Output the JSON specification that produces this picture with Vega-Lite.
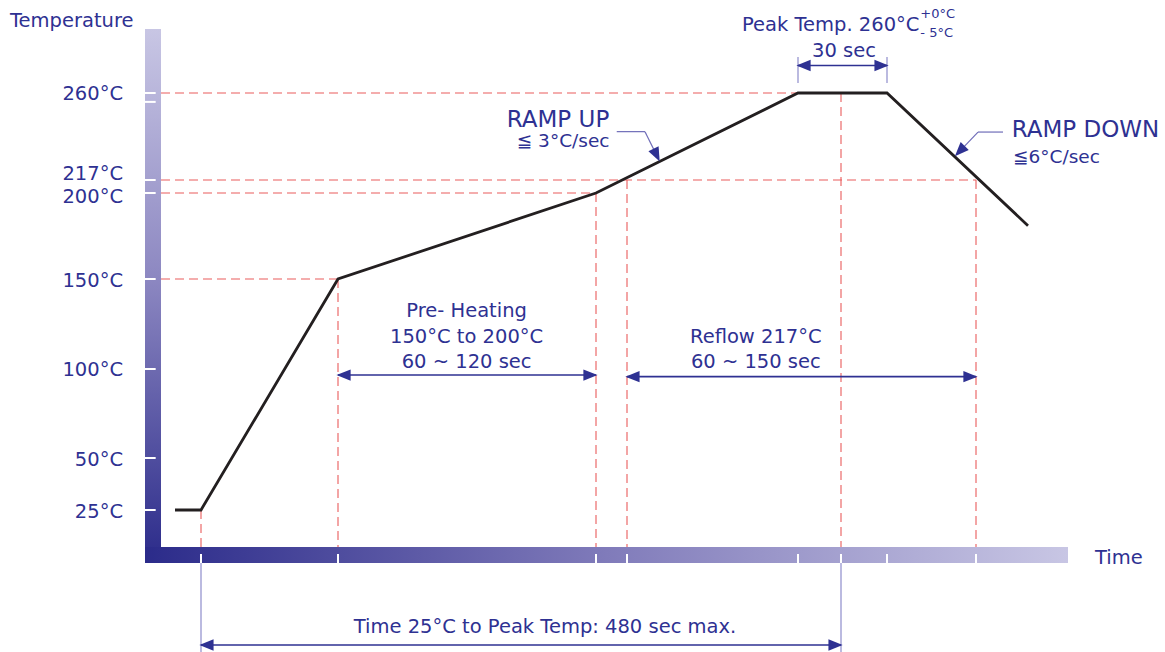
{
  "$schema": "https://vega.github.io/schema/vega-lite/v6.json",
  "width": 1165,
  "height": 652,
  "padding": 0,
  "autosize": {"type": "none"},
  "background": "white",
  "config": {"view": {"stroke": null}, "axis": {"disable": true}, "text": {"font": "DejaVu Sans"}},
  "datasets": {
    "segs": [
      {"k": "ybar", "t": -42, "t2": -30, "v": -1.5, "v2": 292},
      {"k": "xbar", "t": -42, "t2": 650.25, "v": -1.5, "v2": 6.5},
      {"k": "red", "t": -30, "v": 150, "t2": 102.75, "v2": 150},
      {"k": "red", "t": -30, "v": 200, "t2": 296.25, "v2": 200},
      {"k": "red", "t": -30, "v": 217, "t2": 581.25, "v2": 217},
      {"k": "red", "t": -30, "v": 260, "t2": 447.75, "v2": 260},
      {"k": "red", "t": 0, "v": 25, "t2": 0, "v2": 6.5},
      {"k": "red", "t": 102.75, "v": 150, "t2": 102.75, "v2": 6.5},
      {"k": "red", "t": 296.25, "v": 200, "t2": 296.25, "v2": 6.5},
      {"k": "red", "t": 319.5, "v": 217, "t2": 319.5, "v2": 6.5},
      {"k": "red", "t": 480, "v": 260, "t2": 480, "v2": 6.5},
      {"k": "red", "t": 581.25, "v": 217, "t2": 581.25, "v2": 6.5},
      {"k": "guide", "t": 0, "v": -1.5, "t2": 0, "v2": -46},
      {"k": "guide", "t": 480, "v": -1.5, "t2": 480, "v2": -46},
      {"k": "guide", "t": 447.75, "v": 278, "t2": 447.75, "v2": 265},
      {"k": "guide", "t": 514.5, "v": 278, "t2": 514.5, "v2": 265},
      {"k": "arrow", "t": 447.75, "v": 273.75, "t2": 514.5, "v2": 273.75},
      {"k": "arrow", "t": 102.75, "v": 96.6, "t2": 296.25, "v2": 96.6},
      {"k": "arrow", "t": 319.5, "v": 95.7, "t2": 581.25, "v2": 95.7},
      {"k": "arrow", "t": 0, "v": -42.5, "t2": 480, "v2": -42.5},
      {"k": "leader", "t": 311.8, "v": 240.9, "t2": 333, "v2": 240.9},
      {"k": "leader", "t": 333, "v": 240.9, "t2": 341.7, "v2": 229.3},
      {"k": "leader", "t": 601.5, "v": 240.7, "t2": 582.75, "v2": 240.7},
      {"k": "leader", "t": 582.75, "v": 240.7, "t2": 569.1, "v2": 231.3},
      {"k": "ytick", "t": -42, "v": 25, "t2": -34, "v2": 25},
      {"k": "ytick", "t": -42, "v": 50, "t2": -34, "v2": 50},
      {"k": "ytick", "t": -42, "v": 100, "t2": -34, "v2": 100},
      {"k": "ytick", "t": -42, "v": 150, "t2": -34, "v2": 150},
      {"k": "ytick", "t": -42, "v": 200, "t2": -34, "v2": 200},
      {"k": "ytick", "t": -42, "v": 217, "t2": -34, "v2": 217},
      {"k": "ytick", "t": -42, "v": 260, "t2": -34, "v2": 260},
      {"k": "ytick", "t": -42, "v": 255.6, "t2": -34, "v2": 255.6},
      {"k": "xtick", "t": 0, "v": -1.5, "t2": 0, "v2": 3},
      {"k": "xtick", "t": 102.75, "v": -1.5, "t2": 102.75, "v2": 3},
      {"k": "xtick", "t": 296.25, "v": -1.5, "t2": 296.25, "v2": 3},
      {"k": "xtick", "t": 319.5, "v": -1.5, "t2": 319.5, "v2": 3},
      {"k": "xtick", "t": 447.75, "v": -1.5, "t2": 447.75, "v2": 3},
      {"k": "xtick", "t": 480, "v": -1.5, "t2": 480, "v2": 3},
      {"k": "xtick", "t": 514.5, "v": -1.5, "t2": 514.5, "v2": 3},
      {"k": "xtick", "t": 581.25, "v": -1.5, "t2": 581.25, "v2": 3}
    ],
    "prof": [
      {"t": -19.5, "v": 25},
      {"t": 0, "v": 25},
      {"t": 102.75, "v": 150},
      {"t": 296.25, "v": 200},
      {"t": 447.75, "v": 260},
      {"t": 514.5, "v": 260},
      {"t": 620.25, "v": 181}
    ],
    "heads": [
      {"dir": "right", "t": 510.4, "v": 273.75},
      {"dir": "right", "t": 292.1, "v": 96.6},
      {"dir": "right", "t": 577.1, "v": 95.7},
      {"dir": "right", "t": 475.9, "v": -42.5},
      {"dir": "left", "t": 451.9, "v": 273.75},
      {"dir": "left", "t": 106.9, "v": 96.6},
      {"dir": "left", "t": 323.6, "v": 95.7},
      {"dir": "left", "t": 4.1, "v": -42.5},
      {"dir": "rampup", "t": 341.7, "v": 229.3},
      {"dir": "rampdown", "t": 569.1, "v": 231.3}
    ],
    "texts": [
      {"k": "ylab", "label": "260°C", "t": -58.5, "v": 260},
      {"k": "ylab", "label": "217°C", "t": -58.5, "v": 220.5},
      {"k": "ylab", "label": "200°C", "t": -58.5, "v": 198.3},
      {"k": "ylab", "label": "150°C", "t": -58.5, "v": 149.4},
      {"k": "ylab", "label": "100°C", "t": -58.5, "v": 100},
      {"k": "ylab", "label": "50°C", "t": -58.5, "v": 49.5},
      {"k": "ylab", "label": "25°C", "t": -58.5, "v": 24.5},
      {"k": "left19", "label": "Temperature", "t": -143.25, "v": 293},
      {"k": "left19", "label": "Time", "t": 670.5, "v": -2},
      {"k": "left19", "label": "Peak Temp. 260°C", "t": 405.75, "v": 291},
      {"k": "small", "label": "+0°C", "t": 539.5, "v": 297.5},
      {"k": "small", "label": "- 5°C", "t": 539.5, "v": 288},
      {"k": "center19", "label": "30 sec", "t": 482.25, "v": 278},
      {"k": "big", "label": "RAMP UP", "t": 229.3, "v": 243.2},
      {"k": "mid", "label": "≦ 3°C/sec", "t": 236.8, "v": 233.3},
      {"k": "big", "label": "RAMP DOWN", "t": 608, "v": 238.4},
      {"k": "mid", "label": "≦6°C/sec", "t": 609, "v": 225.4},
      {"k": "center19", "label": "Pre- Heating", "t": 199.2, "v": 128.9},
      {"k": "center19", "label": "150°C to 200°C", "t": 199.2, "v": 114.6},
      {"k": "center19", "label": "60 ~ 120 sec", "t": 199.2, "v": 100.6},
      {"k": "center19", "label": "Reflow 217°C", "t": 416.1, "v": 114.6},
      {"k": "center19", "label": "60 ~ 150 sec", "t": 416.1, "v": 100.6},
      {"k": "center19", "label": "Time 25°C to Peak Temp: 480 sec max.", "t": 258, "v": -36.5}
    ]
  },
  "layer": [
    {
      "data": {"name": "segs"},
      "transform": [{"filter": "datum.k === 'ybar'"}],
      "mark": {"type": "rect", "color": {"gradient": "linear", "x1": 0, "y1": 1, "x2": 0, "y2": 0, "stops": [{"offset": 0, "color": "#2b2b8a"}, {"offset": 0.53, "color": "#8c87c1"}, {"offset": 1, "color": "#c8c6e4"}]}},
      "encoding": {
        "x": {"field": "t", "type": "quantitative", "scale": {"domain": [-150.75, 723], "nice": false, "zero": false}, "axis": null},
        "x2": {"field": "t2"},
        "y": {"field": "v", "type": "quantitative", "scale": {"domain": [-50, 25, 50, 100, 150, 200, 217, 260, 300], "range": [660, 510, 458, 369, 279, 193, 180, 93, 13], "nice": false, "zero": false}, "axis": null},
        "y2": {"field": "v2"}
      }
    },
    {
      "data": {"name": "segs"},
      "transform": [{"filter": "datum.k === 'xbar'"}],
      "mark": {"type": "rect", "color": {"gradient": "linear", "x1": 0, "y1": 0, "x2": 1, "y2": 0, "stops": [{"offset": 0, "color": "#2b2b8a"}, {"offset": 0.5, "color": "#807bba"}, {"offset": 1, "color": "#c8c6e4"}]}},
      "encoding": {
        "x": {"field": "t", "type": "quantitative"},
        "x2": {"field": "t2"},
        "y": {"field": "v", "type": "quantitative"},
        "y2": {"field": "v2"}
      }
    },
    {
      "data": {"name": "segs"},
      "transform": [{"filter": "datum.k === 'red'"}],
      "mark": {"type": "rule", "color": "#ea5c5c", "strokeWidth": 1.1, "strokeDash": [9, 5]},
      "encoding": {
        "x": {"field": "t", "type": "quantitative"}, "x2": {"field": "t2"},
        "y": {"field": "v", "type": "quantitative"}, "y2": {"field": "v2"}
      }
    },
    {
      "data": {"name": "segs"},
      "transform": [{"filter": "datum.k === 'guide'"}],
      "mark": {"type": "rule", "color": "#8e8ccb", "strokeWidth": 1.2},
      "encoding": {
        "x": {"field": "t", "type": "quantitative"}, "x2": {"field": "t2"},
        "y": {"field": "v", "type": "quantitative"}, "y2": {"field": "v2"}
      }
    },
    {
      "data": {"name": "segs"},
      "transform": [{"filter": "datum.k === 'ytick' || datum.k === 'xtick'"}],
      "mark": {"type": "rule", "color": "white", "strokeWidth": 2},
      "encoding": {
        "x": {"field": "t", "type": "quantitative"}, "x2": {"field": "t2"},
        "y": {"field": "v", "type": "quantitative"}, "y2": {"field": "v2"}
      }
    },
    {
      "data": {"name": "segs"},
      "transform": [{"filter": "datum.k === 'arrow'"}],
      "mark": {"type": "rule", "color": "#2e3192", "strokeWidth": 1.6},
      "encoding": {
        "x": {"field": "t", "type": "quantitative"}, "x2": {"field": "t2"},
        "y": {"field": "v", "type": "quantitative"}, "y2": {"field": "v2"}
      }
    },
    {
      "data": {"name": "segs"},
      "transform": [{"filter": "datum.k === 'leader'"}],
      "mark": {"type": "rule", "color": "#6f6db8", "strokeWidth": 1.2},
      "encoding": {
        "x": {"field": "t", "type": "quantitative"}, "x2": {"field": "t2"},
        "y": {"field": "v", "type": "quantitative"}, "y2": {"field": "v2"}
      }
    },
    {
      "data": {"name": "prof"},
      "mark": {"type": "line", "color": "#231f20", "strokeWidth": 2.8, "strokeJoin": "miter"},
      "encoding": {
        "x": {"field": "t", "type": "quantitative"},
        "y": {"field": "v", "type": "quantitative"}
      }
    },
    {
      "data": {"name": "heads"},
      "transform": [{"filter": "datum.dir === 'right'"}],
      "mark": {"type": "point", "shape": "M1,0L-1,-0.8L-1,0.8Z", "size": 200, "filled": true, "opacity": 1, "color": "#2e3192", "angle": 0},
      "encoding": {"x": {"field": "t", "type": "quantitative"}, "y": {"field": "v", "type": "quantitative"}}
    },
    {
      "data": {"name": "heads"},
      "transform": [{"filter": "datum.dir === 'left'"}],
      "mark": {"type": "point", "shape": "M1,0L-1,-0.8L-1,0.8Z", "size": 200, "filled": true, "opacity": 1, "color": "#2e3192", "angle": 180},
      "encoding": {"x": {"field": "t", "type": "quantitative"}, "y": {"field": "v", "type": "quantitative"}}
    },
    {
      "data": {"name": "heads"},
      "transform": [{"filter": "datum.dir === 'rampup'"}],
      "mark": {"type": "point", "shape": "M1,0L-1,-0.8L-1,0.8Z", "size": 200, "filled": true, "opacity": 1, "color": "#2e3192", "angle": 64},
      "encoding": {"x": {"field": "t", "type": "quantitative"}, "y": {"field": "v", "type": "quantitative"}}
    },
    {
      "data": {"name": "heads"},
      "transform": [{"filter": "datum.dir === 'rampdown'"}],
      "mark": {"type": "point", "shape": "M1,0L-1,-0.8L-1,0.8Z", "size": 200, "filled": true, "opacity": 1, "color": "#2e3192", "angle": 134},
      "encoding": {"x": {"field": "t", "type": "quantitative"}, "y": {"field": "v", "type": "quantitative"}}
    },
    {
      "data": {"name": "texts"},
      "transform": [{"filter": "datum.k === 'ylab'"}],
      "mark": {"type": "text", "align": "right", "baseline": "middle", "dy": 1, "fontSize": 19.5, "color": "#2e3192"},
      "encoding": {"x": {"field": "t", "type": "quantitative"}, "y": {"field": "v", "type": "quantitative"}, "text": {"field": "label"}}
    },
    {
      "data": {"name": "texts"},
      "transform": [{"filter": "datum.k === 'left19'"}],
      "mark": {"type": "text", "align": "left", "baseline": "alphabetic", "fontSize": 19.5, "color": "#2e3192"},
      "encoding": {"x": {"field": "t", "type": "quantitative"}, "y": {"field": "v", "type": "quantitative"}, "text": {"field": "label"}}
    },
    {
      "data": {"name": "texts"},
      "transform": [{"filter": "datum.k === 'center19'"}],
      "mark": {"type": "text", "align": "center", "baseline": "alphabetic", "fontSize": 19.5, "color": "#2e3192"},
      "encoding": {"x": {"field": "t", "type": "quantitative"}, "y": {"field": "v", "type": "quantitative"}, "text": {"field": "label"}}
    },
    {
      "data": {"name": "texts"},
      "transform": [{"filter": "datum.k === 'small'"}],
      "mark": {"type": "text", "align": "left", "baseline": "alphabetic", "fontSize": 13, "color": "#2e3192"},
      "encoding": {"x": {"field": "t", "type": "quantitative"}, "y": {"field": "v", "type": "quantitative"}, "text": {"field": "label"}}
    },
    {
      "data": {"name": "texts"},
      "transform": [{"filter": "datum.k === 'big'"}],
      "mark": {"type": "text", "align": "left", "baseline": "alphabetic", "fontSize": 23, "color": "#2e3192"},
      "encoding": {"x": {"field": "t", "type": "quantitative"}, "y": {"field": "v", "type": "quantitative"}, "text": {"field": "label"}}
    },
    {
      "data": {"name": "texts"},
      "transform": [{"filter": "datum.k === 'mid'"}],
      "mark": {"type": "text", "align": "left", "baseline": "alphabetic", "fontSize": 18.5, "color": "#2e3192"},
      "encoding": {"x": {"field": "t", "type": "quantitative"}, "y": {"field": "v", "type": "quantitative"}, "text": {"field": "label"}}
    }
  ]
}
